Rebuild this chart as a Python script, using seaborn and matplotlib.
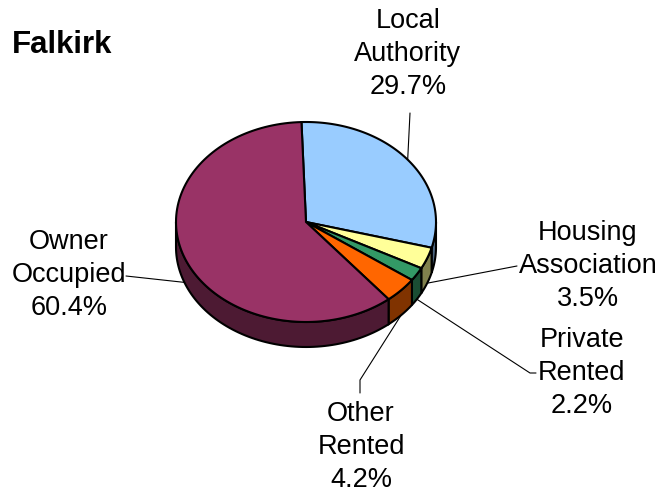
import numpy as np
import matplotlib.pyplot as plt
import seaborn as sns
from matplotlib.patches import Polygon

# data
categories = ['Local\nAuthority', 'Housing\nAssociation', 'Private\nRented', 'Other\nRented', 'Owner\nOccupied']
shares = [29.7, 3.5, 2.2, 4.2, 60.4]
colors = ['#99CCFF', '#FFFF99', '#339966', '#FF6600', '#993366']

sns.set_theme(style='white')
plt.rcParams['font.family'] = ['Liberation Sans', 'DejaVu Sans']
palette = sns.color_palette(colors)
dark = [tuple(c * 0.5 for c in col) for col in palette]

fig = plt.figure(figsize=(6.63, 4.96), dpi=100)
ax = fig.add_axes([0, 0, 1, 1])
ax.set_xlim(0, 663)
ax.set_ylim(496, 0)
ax.axis('off')

# pie geometry (pixel space), angles clockwise from 12 o'clock
cx, cy, rx, ry, depth, start = 306, 222, 130, 100, 25, -2


def rim(theta, drop=0):
    t = np.radians(theta)
    return np.column_stack([cx + rx * np.sin(t), cy - ry * np.cos(t) + drop])


edges = start + 360 * np.concatenate([[0], np.cumsum(shares)]) / 100

# side walls (front half only)
for i in range(len(shares)):
    lo, hi = max(edges[i], 90), min(edges[i + 1], 270)
    if lo < hi:
        t = np.linspace(lo, hi, 80)
        pts = np.vstack([rim(t), rim(t[::-1], depth)])
        ax.add_patch(Polygon(pts, closed=True, facecolor=dark[i], edgecolor='black', lw=1.5, zorder=2))

# top faces
for i in range(len(shares)):
    t = np.linspace(edges[i], edges[i + 1], 120)
    pts = np.vstack([[[cx, cy]], rim(t)])
    ax.add_patch(Polygon(pts, closed=True, facecolor=palette[i], edgecolor='black', lw=1.5, zorder=3))

# labels with leader lines
text_xy = [(408, 54), (588, 266), (582, 373), (361, 447), (69, 275)]
bends = [[(410, 113)], [(517, 266)], [(530, 373), (536, 373)], [(360, 380), (360, 393)], [(126, 276)]]
for i, name in enumerate(categories):
    mid = (edges[i] + edges[i + 1]) / 2
    drop = depth if 90 < mid < 270 else 0
    a = rim(np.array([mid]), drop)[0]
    path = np.vstack([[a], bends[i]])
    ax.plot(path[:, 0], path[:, 1], color='black', lw=0.8, zorder=1)
    ax.text(*text_xy[i], f'{name}\n{shares[i]:.1f}%', ha='center', va='center',
            fontsize=19.5, linespacing=1.35, color='black')

ax.text(12, 45, 'Falkirk', fontsize=22.5, fontweight='bold', va='center', ha='left', color='black')

fig.savefig('out.png', dpi=100)
